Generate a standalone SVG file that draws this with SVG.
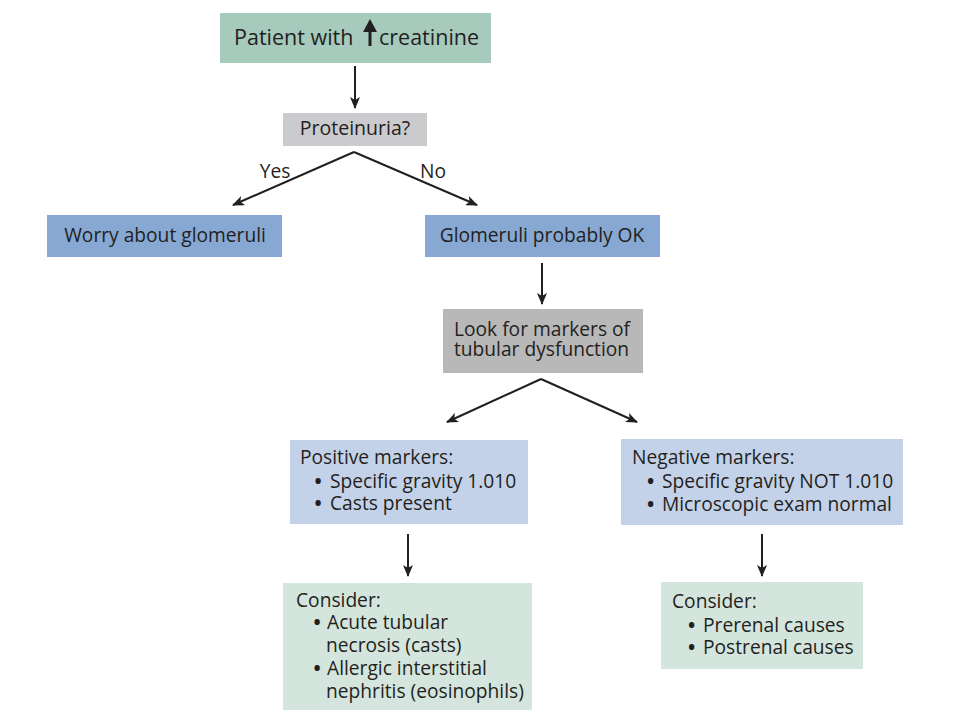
<svg xmlns="http://www.w3.org/2000/svg" width="954" height="710" viewBox="0 0 954 710">
<style>
text{font-family:"Open Sans","Noto Sans","Liberation Sans",sans-serif;fill:#231f20;font-size:19.2px}
.c{text-anchor:middle}
.big{font-size:21.5px}
.b{font-weight:700}
.ln{stroke:#231f20;stroke-width:2;fill:none}
</style>
<defs>
<marker id="ah" viewBox="0 0 12 10" refX="11" refY="5" markerWidth="12" markerHeight="10" markerUnits="userSpaceOnUse" orient="auto">
<path d="M0,0 L12,5 L0,10 L3,5 Z" fill="#231f20"/>
</marker>
</defs>
<rect width="954" height="710" fill="#fff"/>
<g id="n-patient">
<rect x="220" y="13" width="271" height="50" fill="#a6cabc"/>
<text class="big" x="234" y="45">Patient with</text>
<path d="M370,46 V30" stroke="#231f20" stroke-width="3"/>
<path d="M370,19 L377,32 L363,32 Z" fill="#231f20"/>
<text class="big" x="379" y="45">creatinine</text>
</g>
<g id="n-proteinuria">
<rect x="283" y="113" width="144" height="33" fill="#cbcbcd"/>
<text class="c" x="355" y="135" style="font-size:19.5px">Proteinuria?</text>
</g>
<g id="n-worry">
<rect x="47" y="215" width="235" height="42" fill="#86a8d2"/>
<text class="c" x="165" y="242">Worry about glomeruli</text>
</g>
<g id="n-glom">
<rect x="425" y="215" width="235" height="42" fill="#86a8d2"/>
<text class="c" x="542" y="242">Glomeruli probably OK</text>
</g>
<g id="n-look">
<rect x="443" y="309" width="200" height="64" fill="#b8b8b9"/>
<text><tspan x="454" y="336">Look for markers of</tspan><tspan x="454" y="356">tubular dysfunction</tspan></text>
</g>
<g id="n-positive">
<rect x="290" y="440" width="238" height="84" fill="#c3d2e8"/>
<text><tspan x="300" y="464">Positive markers:</tspan><tspan class="b" x="314.5" y="488">•</tspan><tspan x="330" y="488">Specific gravity 1.010</tspan><tspan class="b" x="314.5" y="510">•</tspan><tspan x="330" y="510">Casts present</tspan></text>
</g>
<g id="n-negative">
<rect x="621" y="439" width="282" height="86" fill="#c3d2e8"/>
<text><tspan x="632" y="464">Negative markers:</tspan><tspan class="b" x="647" y="488">•</tspan><tspan x="662" y="488">Specific gravity NOT 1.010</tspan><tspan class="b" x="647" y="511">•</tspan><tspan x="662" y="511">Microscopic exam normal</tspan></text>
</g>
<g id="n-consider-left">
<rect x="283" y="583" width="249" height="127" fill="#d3e5dc"/>
<text><tspan x="296" y="607">Consider:</tspan><tspan class="b" x="313.5" y="629">•</tspan><tspan x="327" y="629">Acute tubular</tspan><tspan x="326" y="652">necrosis (casts)</tspan><tspan class="b" x="313.5" y="675">•</tspan><tspan x="327" y="675">Allergic interstitial</tspan><tspan x="326" y="698">nephritis (eosinophils)</tspan></text>
</g>
<g id="n-consider-right">
<rect x="661" y="582" width="202" height="87" fill="#d3e5dc"/>
<text><tspan x="672" y="608">Consider:</tspan><tspan class="b" x="688" y="632">•</tspan><tspan x="703" y="632">Prerenal causes</tspan><tspan class="b" x="688" y="654">•</tspan><tspan x="703" y="654">Postrenal causes</tspan></text>
</g>
<g id="connectors">
<path class="ln" d="M355,66 V108" marker-end="url(#ah)"/>
<path class="ln" d="M354,152 L233,205" marker-end="url(#ah)"/>
<path class="ln" d="M354,152 L477,205" marker-end="url(#ah)"/>
<text class="c" x="275" y="178">Yes</text>
<text class="c" x="433" y="178">No</text>
<path class="ln" d="M542,263 V304" marker-end="url(#ah)"/>
<path class="ln" d="M541,379 L447,422" marker-end="url(#ah)"/>
<path class="ln" d="M541,379 L637,422" marker-end="url(#ah)"/>
<path class="ln" d="M408,534 V576" marker-end="url(#ah)"/>
<path class="ln" d="M762,534 V576" marker-end="url(#ah)"/>
</g>
</svg>
